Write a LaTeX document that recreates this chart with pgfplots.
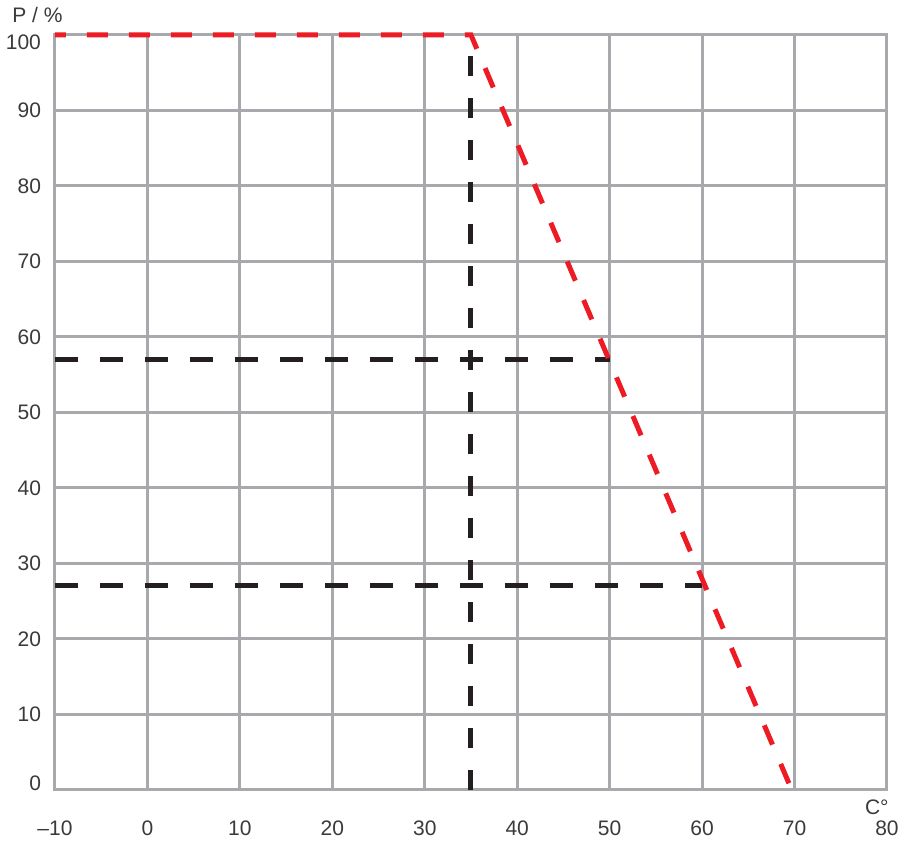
\documentclass[border=0pt]{standalone}
\usepackage{fontspec}
\setmainfont{Liberation Sans}
\usepackage{pgfplots}
\pgfplotsset{compat=1.18}
\definecolor{gridgray}{HTML}{A7A9AC}
\definecolor{dred}{HTML}{ED1C24}
\definecolor{dblack}{HTML}{231F20}
\definecolor{txt}{HTML}{3A3A3A}
\begin{document}
\begin{tikzpicture}
\path[use as bounding box] (-27.5pt,-26pt) rectangle (423.5pt,395pt);
\begin{axis}[
  scale only axis,
  width=416pt, height=377.5pt,
  xmin=-10, xmax=80, ymin=0, ymax=100,
  xtick={-10,0,...,80},
  xticklabels={\textendash10,0,10,20,30,40,50,60,70,80},
  ytick={0,10,...,100},
  yticklabels={,10,20,30,40,50,60,70,80,90,},
  major tick length=0pt,
  grid=major,
  major grid style={gridgray, line width=1.5pt},
  axis line style={gridgray, line width=1.5pt},
  tick label style={font=\fontsize{10.5}{12}\selectfont, text=txt},
  /pgf/number format/assume math mode=true,
  xticklabel style={anchor=center, yshift=-19pt},
  yticklabel style={anchor=east, xshift=-3.5pt},
  axis on top=false,
  clip=false,
]
\addplot[dblack, line width=2.5pt, dash pattern=on 10pt off 11pt] coordinates {(35,0) (35,100)};
\addplot[dblack, line width=2.5pt, dash pattern=on 11.5pt off 11pt] coordinates {(-10,57) (50,57)};
\addplot[dblack, line width=2.5pt, dash pattern=on 11.5pt off 11pt] coordinates {(-10,27.1) (60,27.1)};
\addplot[dred, line width=2.5pt, dash pattern=on 10.5pt off 10.5pt, dash phase=5pt] coordinates {(-10,100) (35,100) (69.7,0)};
\node[anchor=east, text=txt, font=\fontsize{10.5}{12}\selectfont] at ([xshift=-3.5pt,yshift=-3.5pt]rel axis cs:0,1) {100};
\node[anchor=east, text=txt, font=\fontsize{10.5}{12}\selectfont] at ([xshift=-3.5pt,yshift=3.5pt]rel axis cs:0,0) {0};
\node[anchor=base west, text=txt, font=\fontsize{10.5}{12}\selectfont, inner sep=0pt] at ([xshift=-21.5pt,yshift=6pt]rel axis cs:0,1) {P / \%};
\node[anchor=base east, text=txt, font=\fontsize{10.5}{12}\selectfont, inner sep=0pt] at ([xshift=1pt,yshift=-12.5pt]rel axis cs:1,0) {C°};
\end{axis}
\end{tikzpicture}
\end{document}
